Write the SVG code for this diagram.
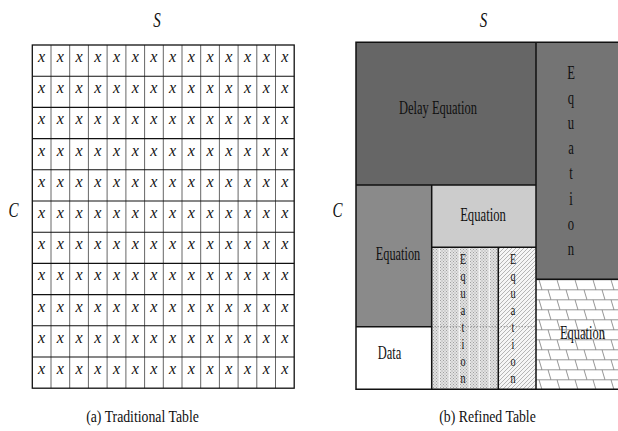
<svg xmlns="http://www.w3.org/2000/svg" xmlns:xlink="http://www.w3.org/1999/xlink" width="618" height="431" viewBox="0 0 618 431">
  <style>
    .lbl { font-family: "Liberation Serif", "Times New Roman", serif; fill: #111; }
    .it { font-family: "Liberation Serif", "Times New Roman", serif; font-style: italic; fill: #111; }
    .blk { fill: none; stroke: #111; stroke-width: 1.5; }
  </style>
  <defs>
    <!-- fine dotted texture with lighter vertical bands -->
    <pattern id="dots" width="10" height="3" patternUnits="userSpaceOnUse">
      <rect width="10" height="3" fill="#e2e2e2"/>
      <rect x="0" y="0" width="1" height="1" fill="#a0a0a0"/>
      <rect x="3" y="0" width="1" height="1" fill="#a0a0a0"/>
      <rect x="6" y="0" width="1" height="1" fill="#a0a0a0"/>
      <rect x="1.5" y="1.5" width="1" height="1" fill="#a0a0a0"/>
      <rect x="4.5" y="1.5" width="1" height="1" fill="#a0a0a0"/>
      <rect x="7.5" y="1.5" width="1" height="1" fill="#a0a0a0"/>
      <rect x="8.6" y="0" width="1.4" height="3" fill="#f2f2f2"/>
    </pattern>
    <!-- thin diagonal hatching -->
    <pattern id="hatch" width="4" height="4" patternUnits="userSpaceOnUse">
      <rect width="4" height="4" fill="#f6f6f6"/>
      <path d="M-1,1 L1,-1 M0,4 L4,0 M3,5 L5,3" stroke="#999" stroke-width="0.7"/>
    </pattern>
    <!-- slanted brick courses -->
    <pattern id="brick" x="536" y="279.3" width="18" height="20" patternUnits="userSpaceOnUse">
      <rect width="18" height="20" fill="#fff"/>
      <path d="M0,0.5 H18 M0,10.5 H18 M3,0.5 L6,10.5 M12,10.5 L15,20.5" stroke="#7a7a7a" stroke-width="0.8" fill="none"/>
    </pattern>
    <text id="xc" class="it" font-size="16" text-anchor="middle">x</text>
  </defs>

  <rect width="618" height="431" fill="#fff"/>

  <!-- (a) traditional table: a full grid of x entries -->
  <g id="traditional">
    <text class="it" font-size="20" text-anchor="middle" transform="translate(157 27) scale(0.75 1)">S</text>
    <text class="it" font-size="20" text-anchor="middle" transform="translate(13.5 217) scale(0.75 1)">C</text>
    <path d="M51,45 V388.2 M69.7,45 V388.2 M88.4,45 V388.2 M107.1,45 V388.2 M125.9,45 V388.2 M144.6,45 V388.2 M163.3,45 V388.2 M182,45 V388.2 M200.7,45 V388.2 M219.4,45 V388.2 M238.1,45 V388.2 M256.8,45 V388.2 M275.5,45 V388.2" stroke="#666" stroke-width="1" fill="none"/>
    <path d="M32.3,76.2 H294.2 M32.3,107.4 H294.2 M32.3,138.6 H294.2 M32.3,169.8 H294.2 M32.3,201 H294.2 M32.3,232.2 H294.2 M32.3,263.4 H294.2 M32.3,294.6 H294.2 M32.3,325.8 H294.2 M32.3,357 H294.2" stroke="#111" stroke-width="1.1" fill="none"/>
    <rect x="32.3" y="45" width="261.9" height="343.2" fill="none" stroke="#111" stroke-width="1.3"/>
    <g id="cells">
      <g id="row1"><use href="#xc" x="41.66" y="62"/><use href="#xc" x="60.37" y="62"/><use href="#xc" x="79.08" y="62"/><use href="#xc" x="97.79" y="62"/><use href="#xc" x="116.5" y="62"/><use href="#xc" x="135.2" y="62"/><use href="#xc" x="153.9" y="62"/><use href="#xc" x="172.6" y="62"/><use href="#xc" x="191.4" y="62"/><use href="#xc" x="210.1" y="62"/><use href="#xc" x="228.8" y="62"/><use href="#xc" x="247.5" y="62"/><use href="#xc" x="266.2" y="62"/><use href="#xc" x="284.9" y="62"/></g>
      <use href="#row1" y="31.2"/>
      <use href="#row1" y="62.4"/>
      <use href="#row1" y="93.6"/>
      <use href="#row1" y="124.8"/>
      <use href="#row1" y="156"/>
      <use href="#row1" y="187.2"/>
      <use href="#row1" y="218.4"/>
      <use href="#row1" y="249.6"/>
      <use href="#row1" y="280.8"/>
      <use href="#row1" y="312"/>
    </g>
    <text class="lbl" font-size="17" text-anchor="middle" transform="translate(142.5 422) scale(0.81 1)">(a) Traditional Table</text>
  </g>

  <!-- (b) refined table: merged regions -->
  <g id="refined">
    <text class="it" font-size="20" text-anchor="middle" transform="translate(483.5 27) scale(0.75 1)">S</text>
    <text class="it" font-size="20" text-anchor="middle" transform="translate(337.5 217) scale(0.75 1)">C</text>

    <g id="delay-equation">
      <rect x="356" y="42.3" width="180" height="142.7" fill="#666"/>
      <text class="lbl" font-size="19.5" text-anchor="middle" transform="translate(438 114) scale(0.64 1)">Delay Equation</text>
    </g>
    <g id="equation-tall">
      <rect x="536" y="42.3" width="82" height="237" fill="#747474"/>
      <g class="lbl" font-size="19.5" text-anchor="middle">
        <text transform="translate(571 79) scale(0.65 1)">E</text>
        <text transform="translate(571 104.1) scale(0.65 1)">q</text>
        <text transform="translate(571 129.2) scale(0.65 1)">u</text>
        <text transform="translate(571 154.3) scale(0.65 1)">a</text>
        <text transform="translate(571 179.4) scale(0.65 1)">t</text>
        <text transform="translate(571 204.5) scale(0.65 1)">i</text>
        <text transform="translate(571 229.6) scale(0.65 1)">o</text>
        <text transform="translate(571 254.7) scale(0.65 1)">n</text>
      </g>
    </g>
    <g id="equation-left">
      <rect x="356" y="185" width="75.7" height="141.7" fill="#8a8a8a"/>
      <text class="lbl" font-size="19.5" text-anchor="middle" transform="translate(398 260) scale(0.63 1)">Equation</text>
    </g>
    <g id="equation-light">
      <rect x="431.7" y="185" width="104.3" height="62.3" fill="#cccccc"/>
      <text class="lbl" font-size="19.5" text-anchor="middle" transform="translate(483 221) scale(0.65 1)">Equation</text>
    </g>
    <g id="data">
      <rect x="356" y="326.7" width="75.7" height="62.6" fill="#fff"/>
      <text class="lbl" font-size="19.5" text-anchor="middle" transform="translate(389.5 359) scale(0.64 1)">Data</text>
    </g>
    <g id="equation-dotted">
      <rect x="431.7" y="247.3" width="66.6" height="142" fill="url(#dots)"/>
      <g class="lbl" font-size="15" text-anchor="middle">
        <text transform="translate(463 264) scale(0.68 1)">E</text>
        <text transform="translate(463 281) scale(0.68 1)">q</text>
        <text transform="translate(463 298) scale(0.68 1)">u</text>
        <text transform="translate(463 315) scale(0.68 1)">a</text>
        <text transform="translate(463 332) scale(0.68 1)">t</text>
        <text transform="translate(463 349) scale(0.68 1)">i</text>
        <text transform="translate(463 366) scale(0.68 1)">o</text>
        <text transform="translate(463 383) scale(0.68 1)">n</text>
      </g>
    </g>
    <g id="equation-hatched">
      <rect x="498.3" y="247.3" width="37.7" height="142" fill="url(#hatch)"/>
      <g class="lbl" font-size="15" text-anchor="middle">
        <text transform="translate(513 264) scale(0.68 1)">E</text>
        <text transform="translate(513 281) scale(0.68 1)">q</text>
        <text transform="translate(513 298) scale(0.68 1)">u</text>
        <text transform="translate(513 315) scale(0.68 1)">a</text>
        <text transform="translate(513 332) scale(0.68 1)">t</text>
        <text transform="translate(513 349) scale(0.68 1)">i</text>
        <text transform="translate(513 366) scale(0.68 1)">o</text>
        <text transform="translate(513 383) scale(0.68 1)">n</text>
      </g>
    </g>
    <g id="equation-brick">
      <rect x="536" y="279.3" width="82" height="110" fill="url(#brick)"/>
      <text class="lbl" font-size="19.5" text-anchor="middle" transform="translate(582.5 339) scale(0.64 1)">Equation</text>
    </g>

    <!-- region boundaries -->
    <path d="M431.7,326.7 H536" stroke="#555" stroke-width="0.8" stroke-dasharray="1 2" fill="none"/>
    <path class="blk" d="M356,185 H536 M536,42.3 V389.3 M431.7,185 V389.3 M431.7,247.3 H536 M498.3,247.3 V389.3 M536,279.3 H618 M356,326.7 H431.7"/>
    <path class="blk" d="M618,42.3 H356 V389.3 H618"/>

    <text class="lbl" font-size="17" text-anchor="middle" transform="translate(487.5 422) scale(0.81 1)">(b) Refined Table</text>
  </g>
</svg>
